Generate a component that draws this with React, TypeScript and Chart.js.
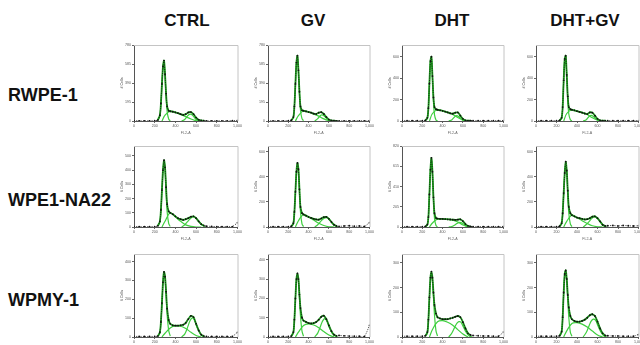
import React, { useEffect, useRef } from "react";
import { Chart, registerables } from "chart.js";

Chart.register(...registerables);

// ---- DATA ----
const COLUMNS = ["CTRL", "GV", "DHT", "DHT+GV"];
const ROWS = ["RWPE-1", "WPE1-NA22", "WPMY-1"];

// channel grid (FL2-A) of the raw histogram points
const X_GRID = [0, 50, 100, 150, 200, 230, 250, 260, 270, 280, 290, 300, 310, 320, 335, 350, 375, 400, 425, 450, 475, 500, 525, 550, 575, 600, 625, 650, 675, 700, 750, 800, 850, 900, 950, 1000];
const G1_X = [230, 250, 260, 270, 280, 290, 300, 310, 320, 335, 350];
const S_X = [270, 300, 350, 400, 450, 500, 550, 600, 650];
const G2_X = [460, 490, 520, 540, 560, 580, 600, 630, 660, 690];
const X_TICKS = [0, 200, 400, 600, 800, 1000];

// RWPE-1
const R1_CTRL_RAW = [2, 2, 2, 2, 3, 10, 60, 180, 380, 560, 620, 480, 280, 150, 105, 100, 95, 88, 80, 70, 62, 70, 88, 92, 70, 35, 12, 5, 3, 2, 2, 2, 2, 2, 3, 5];
const R1_CTRL_G1 = [5, 50, 170, 370, 550, 610, 460, 250, 100, 20, 2];
const R1_CTRL_S = [0, 60, 100, 88, 68, 45, 20, 3, 0];
const R1_CTRL_G2 = [0, 15, 55, 70, 65, 40, 15, 3, 0, 0];

const R1_GV_RAW = [2, 2, 2, 2, 3, 8, 40, 150, 380, 600, 670, 520, 300, 150, 110, 105, 98, 92, 85, 75, 72, 85, 90, 72, 40, 15, 5, 3, 2, 2, 2, 2, 2, 2, 2, 3];
const R1_GV_G1 = [4, 35, 140, 370, 590, 660, 500, 280, 110, 25, 3];
const R1_GV_S = [0, 55, 105, 92, 72, 50, 22, 4, 0];
const R1_GV_G2 = [0, 25, 60, 60, 45, 25, 10, 2, 0, 0];

const R1_DHT_RAW = [3, 3, 3, 3, 3, 6, 30, 120, 350, 560, 600, 420, 220, 130, 110, 105, 100, 95, 88, 80, 72, 68, 78, 80, 50, 20, 6, 3, 3, 3, 3, 3, 3, 3, 3, 4];
const R1_DHT_G1 = [3, 25, 110, 340, 550, 590, 400, 180, 60, 10, 1];
const R1_DHT_S = [0, 70, 105, 95, 82, 62, 32, 8, 0];
const R1_DHT_G2 = [0, 10, 40, 50, 40, 22, 8, 2, 0, 0];

const R1_DHTGV_RAW = [3, 3, 3, 3, 3, 5, 30, 130, 380, 580, 610, 430, 230, 130, 110, 105, 100, 92, 85, 78, 70, 65, 80, 78, 50, 20, 6, 3, 3, 3, 3, 3, 3, 3, 3, 3];
const R1_DHTGV_G1 = [3, 25, 120, 370, 570, 600, 410, 190, 65, 12, 1];
const R1_DHTGV_S = [0, 70, 105, 92, 80, 60, 30, 8, 0];
const R1_DHTGV_G2 = [0, 12, 45, 52, 42, 25, 10, 2, 0, 0];

// WPE1-NA22
const R2_CTRL_RAW = [3, 3, 3, 3, 3, 8, 40, 120, 260, 400, 470, 420, 280, 160, 110, 100, 90, 75, 62, 55, 50, 55, 62, 72, 75, 62, 40, 20, 10, 6, 4, 3, 3, 3, 3, 30];
const R2_CTRL_G1 = [5, 35, 110, 250, 390, 460, 400, 250, 110, 25, 3];
const R2_CTRL_S = [0, 40, 100, 70, 40, 15, 4, 0, 0];
const R2_CTRL_G2 = [0, 15, 40, 55, 68, 72, 60, 35, 12, 0];

const R2_GV_RAW = [3, 3, 3, 3, 3, 6, 30, 120, 280, 440, 510, 460, 300, 160, 110, 100, 90, 80, 72, 65, 60, 58, 68, 78, 80, 65, 40, 18, 8, 5, 8, 10, 6, 8, 5, 35];
const R2_GV_G1 = [4, 25, 110, 270, 430, 500, 440, 270, 120, 25, 3];
const R2_GV_S = [0, 50, 100, 80, 55, 30, 12, 2, 0];
const R2_GV_G2 = [0, 18, 45, 62, 72, 75, 62, 35, 10, 0];

const R2_DHT_RAW = [4, 4, 4, 4, 4, 5, 25, 100, 330, 580, 700, 560, 300, 140, 90, 85, 82, 82, 80, 78, 76, 74, 72, 74, 78, 60, 30, 12, 5, 4, 4, 4, 4, 4, 4, 5];
const R2_DHT_G1 = [4, 20, 90, 320, 570, 690, 540, 280, 90, 15, 2];
const R2_DHT_S = [0, 40, 82, 82, 78, 70, 50, 20, 0];
const R2_DHT_G2 = [0, 5, 20, 35, 45, 45, 35, 15, 3, 0];

const R2_DHTGV_RAW = [3, 3, 3, 3, 3, 6, 30, 110, 270, 430, 520, 450, 290, 160, 110, 95, 85, 75, 70, 65, 60, 62, 70, 82, 85, 70, 45, 18, 8, 10, 12, 8, 12, 10, 8, 10];
const R2_DHTGV_G1 = [4, 25, 100, 260, 420, 510, 430, 260, 110, 25, 3];
const R2_DHTGV_S = [0, 45, 95, 75, 50, 28, 10, 2, 0];
const R2_DHTGV_G2 = [0, 20, 45, 65, 78, 80, 65, 38, 10, 0];

// WPMY-1
const R3_CTRL_RAW = [3, 3, 3, 3, 3, 5, 25, 80, 180, 290, 345, 320, 240, 150, 90, 70, 62, 60, 60, 62, 65, 75, 95, 112, 105, 70, 35, 12, 5, 3, 3, 3, 3, 3, 3, 25];
const R3_CTRL_G1 = [3, 20, 75, 175, 285, 340, 310, 220, 120, 35, 5];
const R3_CTRL_S = [0, 20, 48, 60, 58, 45, 25, 8, 0];
const R3_CTRL_G2 = [0, 15, 55, 85, 100, 95, 65, 28, 5, 0];

const R3_GV_RAW = [3, 3, 3, 3, 3, 5, 25, 90, 200, 300, 330, 300, 220, 150, 100, 85, 78, 72, 70, 72, 78, 90, 105, 110, 92, 60, 30, 12, 6, 8, 6, 5, 4, 4, 3, 60];
const R3_GV_G1 = [3, 20, 85, 195, 295, 325, 290, 200, 110, 30, 4];
const R3_GV_S = [0, 25, 60, 68, 62, 48, 28, 10, 0];
const R3_GV_G2 = [0, 20, 60, 85, 95, 85, 55, 22, 5, 0];

const R3_DHT_RAW = [3, 3, 3, 3, 3, 5, 20, 70, 160, 240, 265, 240, 180, 130, 95, 80, 75, 72, 72, 72, 75, 78, 82, 85, 80, 60, 35, 15, 8, 6, 5, 4, 4, 3, 3, 20];
const R3_DHT_G1 = [3, 15, 65, 150, 230, 255, 225, 160, 90, 25, 4];
const R3_DHT_S = [0, 30, 62, 66, 60, 48, 30, 12, 0];
const R3_DHT_G2 = [0, 15, 40, 55, 62, 60, 45, 20, 5, 0];

const R3_DHTGV_RAW = [3, 3, 3, 3, 3, 5, 22, 80, 180, 255, 270, 235, 170, 120, 85, 72, 65, 62, 62, 65, 70, 78, 88, 92, 85, 62, 35, 15, 6, 5, 4, 4, 3, 3, 3, 10];
const R3_DHTGV_G1 = [3, 18, 75, 172, 248, 262, 220, 150, 80, 20, 3];
const R3_DHTGV_S = [0, 25, 55, 58, 52, 40, 24, 8, 0];
const R3_DHTGV_G2 = [0, 18, 48, 65, 72, 68, 50, 22, 5, 0];

// y-axis ranges per row (CTRL, GV, DHT, DHT+GV)
const Y_MAX_R1 = [780, 780, 710, 710];
const Y_STEP_R1 = [200, 200, 200, 200];
const Y_MAX_R2 = [570, 645, 820, 645];
const Y_STEP_R2 = [100, 200, 200, 200];
const Y_MAX_R3 = [440, 430, 336, 336];
const Y_STEP_R3 = [100, 100, 100, 100];

const PANELS = [
  [
    [R1_CTRL_RAW, R1_CTRL_G1, R1_CTRL_S, R1_CTRL_G2],
    [R1_GV_RAW, R1_GV_G1, R1_GV_S, R1_GV_G2],
    [R1_DHT_RAW, R1_DHT_G1, R1_DHT_S, R1_DHT_G2],
    [R1_DHTGV_RAW, R1_DHTGV_G1, R1_DHTGV_S, R1_DHTGV_G2],
  ],
  [
    [R2_CTRL_RAW, R2_CTRL_G1, R2_CTRL_S, R2_CTRL_G2],
    [R2_GV_RAW, R2_GV_G1, R2_GV_S, R2_GV_G2],
    [R2_DHT_RAW, R2_DHT_G1, R2_DHT_S, R2_DHT_G2],
    [R2_DHTGV_RAW, R2_DHTGV_G1, R2_DHTGV_S, R2_DHTGV_G2],
  ],
  [
    [R3_CTRL_RAW, R3_CTRL_G1, R3_CTRL_S, R3_CTRL_G2],
    [R3_GV_RAW, R3_GV_G1, R3_GV_S, R3_GV_G2],
    [R3_DHT_RAW, R3_DHT_G1, R3_DHT_S, R3_DHT_G2],
    [R3_DHTGV_RAW, R3_DHTGV_G1, R3_DHTGV_S, R3_DHTGV_G2],
  ],
];
const Y_MAX = [Y_MAX_R1, Y_MAX_R2, Y_MAX_R3];
const Y_STEP = [Y_STEP_R1, Y_STEP_R2, Y_STEP_R3];

// ---- LAYOUT ----
const COL_LEFT = [134, 268, 402, 536];
const COL_WIDTH = [104, 102, 102, 103];
const ROW_TOP = [44, 145, 253];
const ROW_BOTTOM = [121, 227, 337];
const COL_TITLE_X = [187, 313, 452, 585];
const ROW_LABEL_Y = [95, 200, 300];

const FONT = '"Liberation Sans", Arial, sans-serif';
const AXIS_W = 14;
const AXIS_H = 14;
const PAD_L = 2;
const PAD_T = 3;
const PAD_R = 5;

const framePlugin = {
  id: "frame",
  afterDatasetsDraw(chart: any) {
    const { ctx, chartArea: a } = chart;
    ctx.save();
    ctx.strokeStyle = "#c4c4c4";
    ctx.lineWidth = 1;
    ctx.beginPath();
    ctx.moveTo(a.left, a.top + 0.5);
    ctx.lineTo(a.right + 0.5, a.top + 0.5);
    ctx.lineTo(a.right + 0.5, a.bottom);
    ctx.stroke();
    ctx.restore();
  },
};

function Panel(props: {
  left: number;
  top: number;
  width: number;
  height: number;
  raw: number[];
  g1: number[];
  s: number[];
  g2: number[];
  yMax: number;
  yStep: number;
}) {
  const ref = useRef<HTMLCanvasElement | null>(null);
  const W = PAD_L + AXIS_W + props.width + PAD_R;
  const H = PAD_T + props.height + AXIS_H;

  useEffect(() => {
    if (!ref.current) return;
    const rawPts = X_GRID.map((x, i) => ({ x, y: props.raw[i] }));
    const fitPts = rawPts.filter((p) => p.x >= 230 && p.x <= 675);
    const g1Pts = G1_X.map((x, i) => ({ x, y: props.g1[i] }));
    const sPts = S_X.map((x, i) => ({ x, y: props.s[i] }));
    const g2Pts = G2_X.map((x, i) => ({ x, y: props.g2[i] }));
    const comp = (data: any[]) => ({
      data,
      borderColor: "#3fcf3f",
      borderWidth: 1.2,
      pointRadius: 0,
      tension: 0.35,
      order: 3,
    });
    const tickFont = { family: FONT, size: 3.6 };
    const chart = new Chart(ref.current, {
      type: "line",
      data: {
        datasets: [
          {
            data: rawPts,
            borderColor: "#111",
            borderWidth: 0.8,
            borderDash: [1, 1.2],
            pointRadius: 0.9,
            pointBackgroundColor: "#111",
            pointBorderWidth: 0,
            tension: 0.2,
            order: 0,
          },
          {
            data: fitPts,
            borderColor: "#1f9a1f",
            borderWidth: 1.8,
            pointRadius: 0,
            tension: 0.3,
            order: 1,
          },
          comp(g1Pts),
          comp(sPts),
          comp(g2Pts),
        ],
      },
      options: {
        animation: false,
        responsive: false,
        maintainAspectRatio: false,
        events: [],
        layout: { padding: { left: PAD_L, top: PAD_T, right: PAD_R, bottom: 0 } },
        plugins: { legend: { display: false }, tooltip: { enabled: false } },
        scales: {
          x: {
            type: "linear",
            min: 0,
            max: 1000,
            afterBuildTicks: (s: any) => {
              s.ticks = X_TICKS.map((v) => ({ value: v }));
            },
            ticks: { font: tickFont, color: "#555", padding: 1, maxRotation: 0, autoSkip: false },
            grid: { drawOnChartArea: false, tickLength: 2, color: "#666" },
            border: { color: "#555", width: 1 },
            title: { display: true, text: "FL2-A", font: { family: FONT, size: 3.6 }, color: "#666", padding: 0 },
            afterFit: (s: any) => {
              s.height = AXIS_H;
            },
          },
          y: {
            min: 0,
            max: props.yMax,
            ticks: { stepSize: props.yStep, includeBounds: false, font: tickFont, color: "#555", padding: 1 },
            grid: { drawOnChartArea: false, tickLength: 2, color: "#666" },
            border: { color: "#555", width: 1 },
            title: { display: true, text: "# Cells", font: { family: FONT, size: 3.6 }, color: "#444", padding: 0 },
            afterFit: (s: any) => {
              s.width = AXIS_W;
            },
          },
        },
      } as any,
      plugins: [framePlugin],
    });
    return () => chart.destroy();
  }, []);

  return (
    <canvas
      ref={ref}
      width={W}
      height={H}
      style={{
        position: "absolute",
        left: props.left - PAD_L - AXIS_W,
        top: props.top - PAD_T,
        width: W,
        height: H,
      }}
    />
  );
}

export default function App() {
  return (
    <div
      style={{
        position: "fixed",
        left: 0,
        top: 0,
        width: 640,
        height: 345,
        overflow: "hidden",
        background: "#fff",
        fontFamily: FONT,
      }}
    >
      {COLUMNS.map((c, i) => (
        <div
          key={c}
          style={{
            position: "absolute",
            left: COL_TITLE_X[i],
            top: 20,
            transform: "translate(-50%, -50%)",
            fontWeight: "bold",
            fontSize: 17,
            lineHeight: 1,
            whiteSpace: "nowrap",
            color: "#111",
          }}
        >
          {c}
        </div>
      ))}
      {ROWS.map((r, i) => (
        <div
          key={r}
          style={{
            position: "absolute",
            left: 8,
            top: ROW_LABEL_Y[i],
            transform: "translateY(-50%)",
            fontWeight: "bold",
            fontSize: 18,
            lineHeight: 1,
            whiteSpace: "nowrap",
            color: "#111",
          }}
        >
          {r}
        </div>
      ))}
      {PANELS.map((row, ri) =>
        row.map((p, ci) => (
          <Panel
            key={ri + "-" + ci}
            left={COL_LEFT[ci]}
            top={ROW_TOP[ri]}
            width={COL_WIDTH[ci]}
            height={ROW_BOTTOM[ri] - ROW_TOP[ri]}
            raw={p[0]}
            g1={p[1]}
            s={p[2]}
            g2={p[3]}
            yMax={Y_MAX[ri][ci]}
            yStep={Y_STEP[ri][ci]}
          />
        ))
      )}
    </div>
  );
}
